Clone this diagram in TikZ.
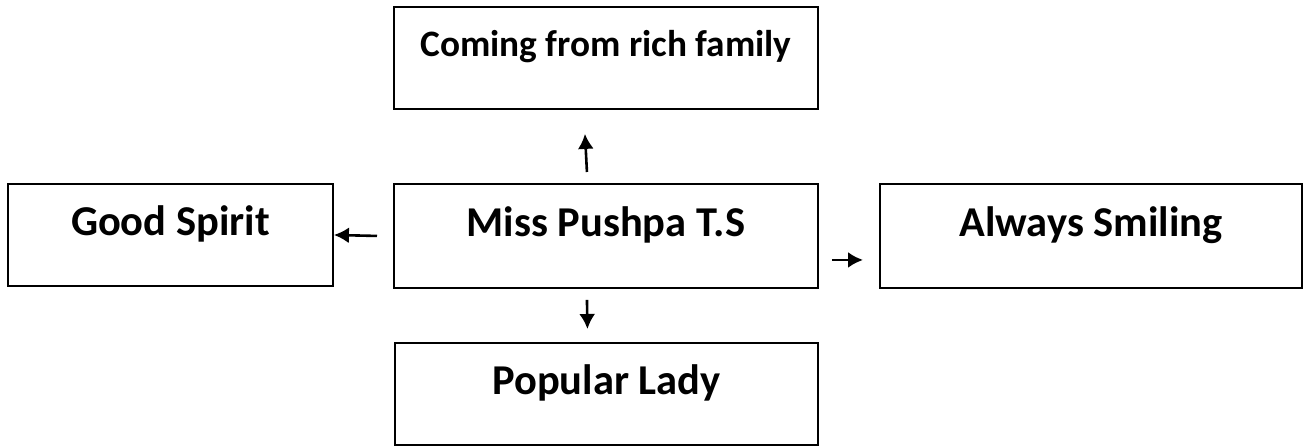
\documentclass[tikz,border=0pt]{standalone}
\usepackage{fontspec}
\setmainfont{Carlito}
\usetikzlibrary{arrows.meta}

\begin{document}
\begin{tikzpicture}[x=1pt,y=-1pt,
box/.style={%
anchor=north west,
draw,
line width=1.9pt,
inner sep=0pt,
minimum height=102pt,
font={\fontsize{42.5}{50}\selectfont\bfseries},
text height=28pt,
text depth=26pt,
},
arr/.style={%
-{Latex[length=15pt,width=16pt]},
line width=2.6pt,
},
]
\useasboundingbox (0,0) rectangle (1303,446);
%% Boxes
\node[box,minimum width=424pt,font={\fontsize{37.3}{44}\selectfont\bfseries},text depth=30pt](fam)at(393,6){Coming from rich family};
\node[box,minimum width=424pt,minimum height=104pt](miss)at(393,183){Miss Pushpa T.S};
\node[box,minimum width=325pt](good)at(7,183){Good Spirit};
\node[box,minimum width=422pt,minimum height=104pt](smile)at(879,183){Always Smiling};
\node[box,minimum width=423pt](lady)at(394,342){Popular Lady};
%% Arrows
\draw[arr]([xshift=-19pt,yshift=11pt]miss.north)--([xshift=-21pt,yshift=-24pt]fam.south);
\draw[arr]([xshift=-16pt]miss.west)--(good.east);
\draw[arr]([xshift=13pt,yshift=-24pt]miss.east)--([xshift=-16pt,yshift=-24pt]smile.west);
\draw[arr]([xshift=-19pt,yshift=-11pt]miss.south)--([xshift=-19pt,yshift=13pt]lady.north);
\end{tikzpicture}
\end{document}
